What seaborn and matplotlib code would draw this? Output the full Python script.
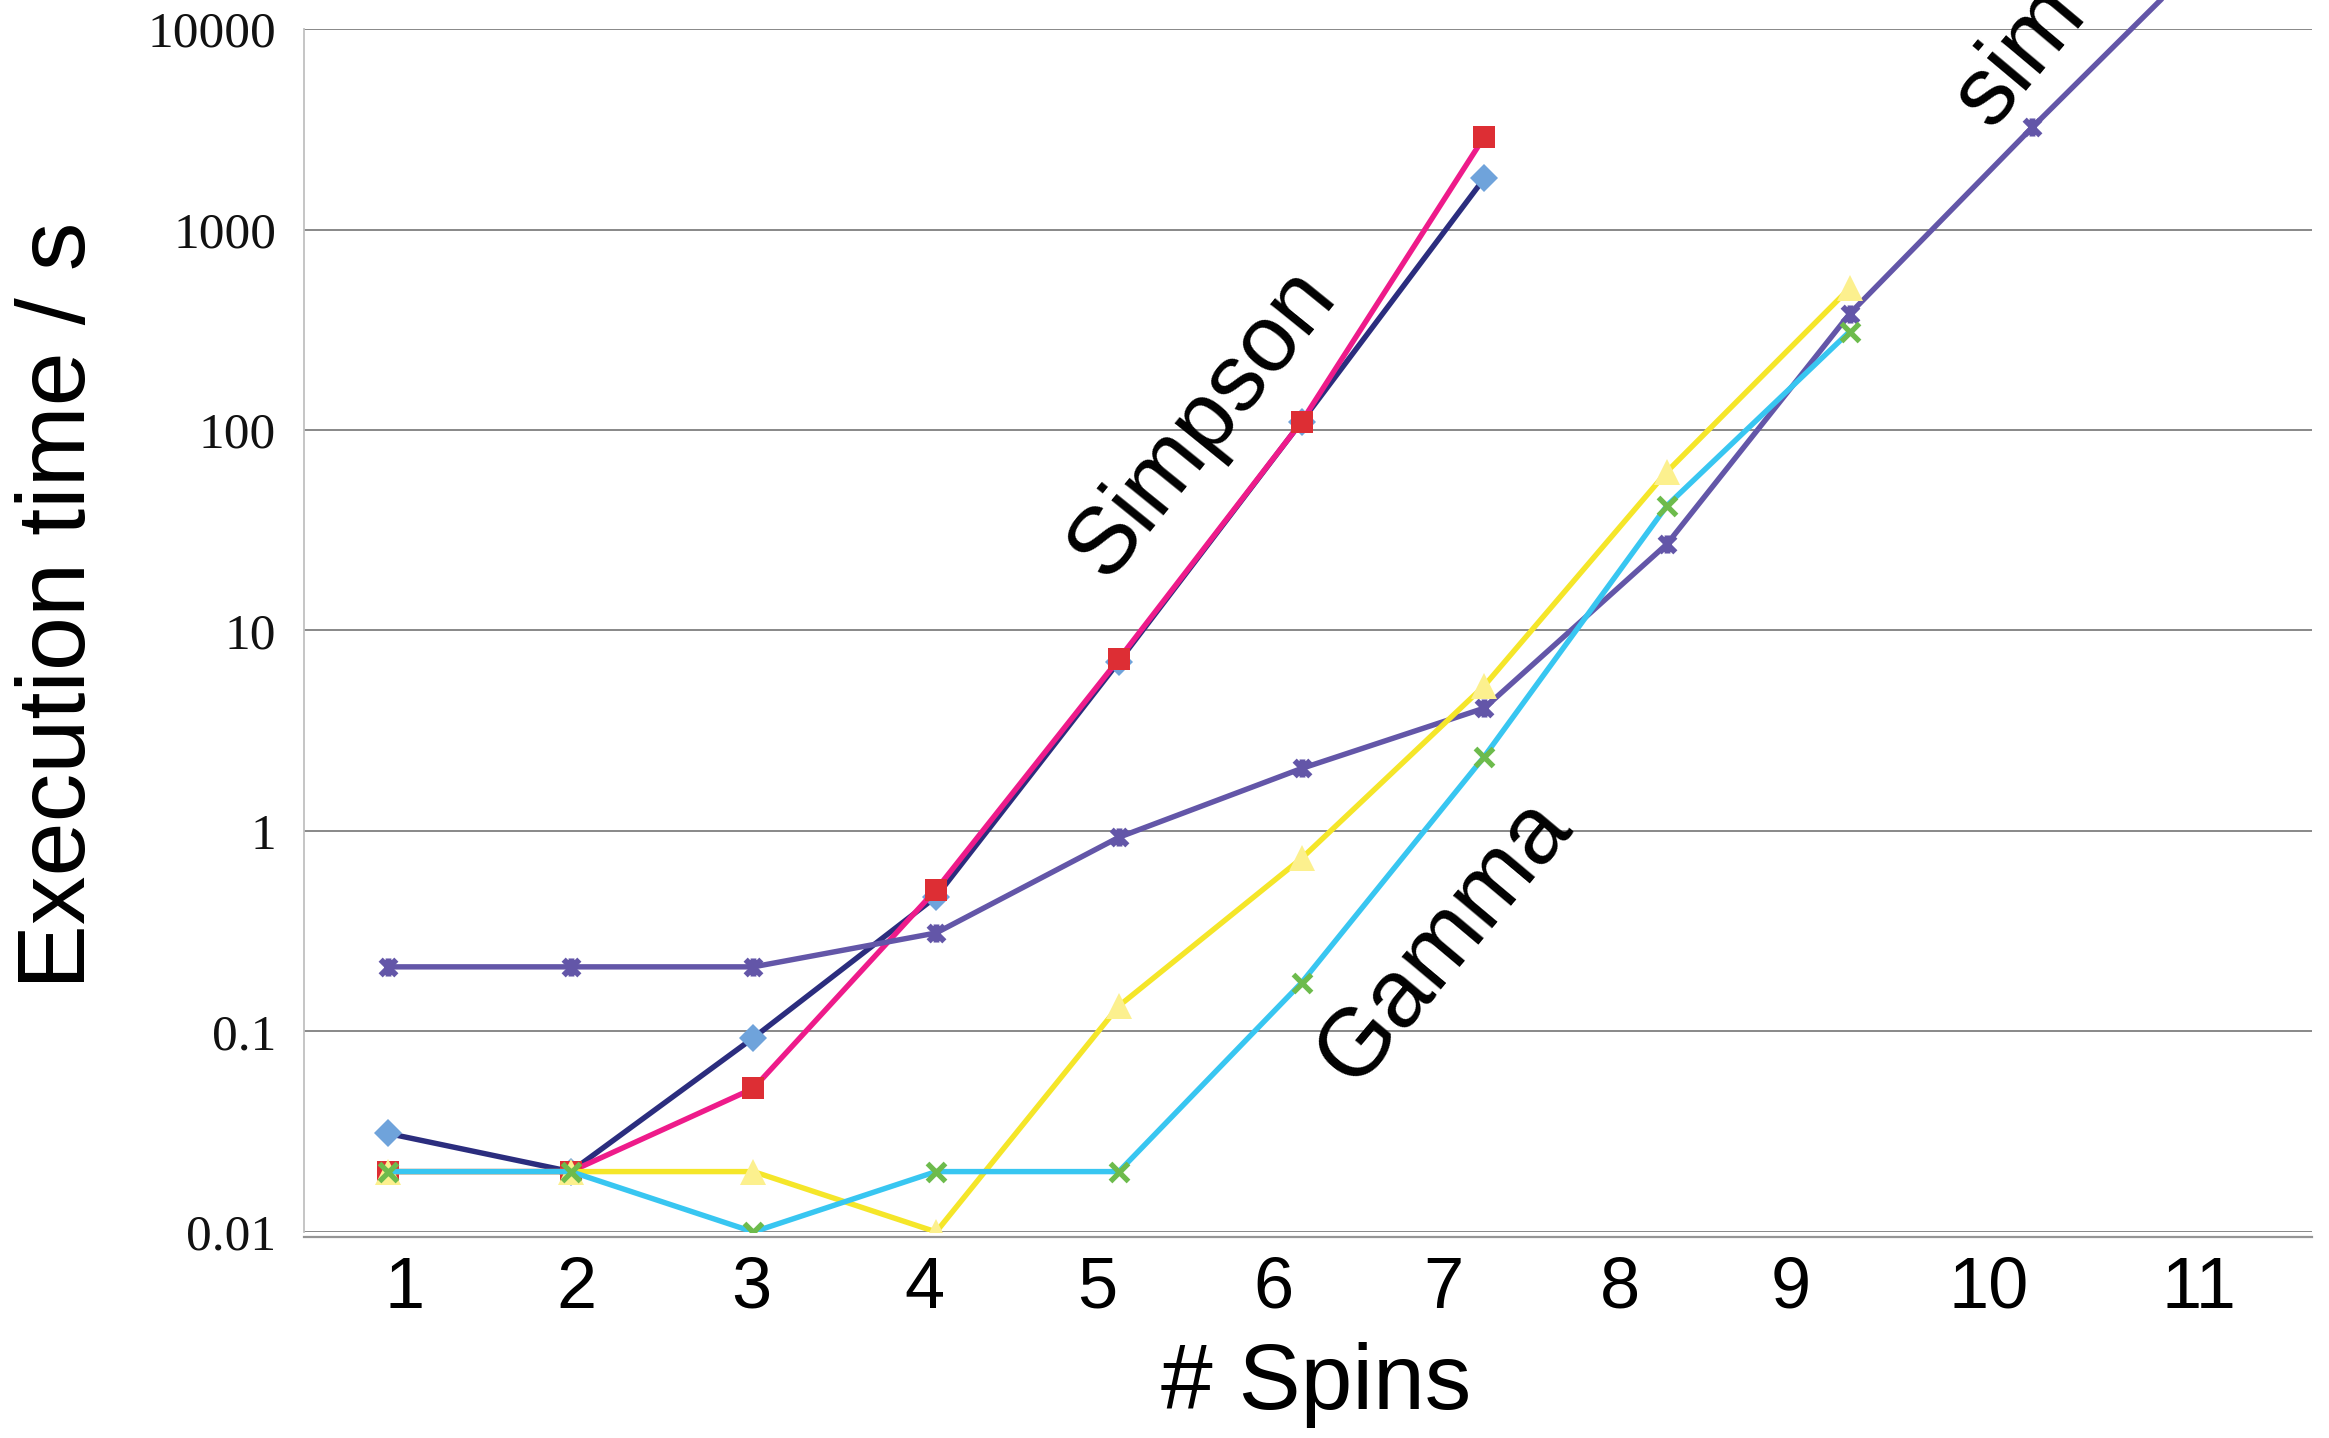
import matplotlib
matplotlib.use("Agg")
import matplotlib.pyplot as plt
from matplotlib.path import Path
from matplotlib.ticker import FixedLocator, FixedFormatter, NullLocator
import seaborn as sns

# Execution time (s) versus number of spins
spins = [1, 2, 3, 4, 5, 6, 7, 8, 9, 10, 11]
simpson_a = [0.031, 0.02, 0.093, 0.47, 7.0, 110, 1800]
simpson_b = [0.02, 0.02, 0.052, 0.51, 7.2, 110, 2900]
sim_times = [0.21, 0.21, 0.21, 0.31, 0.93, 2.05, 4.1, 27, 380, 3240, 26000]
gamma_a = [0.02, 0.02, 0.02, 0.01, 0.134, 0.73, 5.3, 62, 510]
gamma_b = [0.02, 0.02, 0.01, 0.02, 0.02, 0.175, 2.35, 42, 310]

ytick_values = [0.01, 0.1, 1, 10, 100, 1000, 10000]
ytick_labels = ["0.01", "0.1", "1", "10", "100", "1000", "10000"]
xtick_labels = ["1", "2", "3", "4", "5", "6", "7", "8", "9", "10", "11"]
xtick_positions = [1.093, 2.034, 2.99, 3.934, 4.88, 5.844, 6.775, 7.743, 8.679, 9.763, 10.912]

sns.set_style("white")
plt.rcParams["font.family"] = ["Liberation Sans", "DejaVu Sans"]
plt.rcParams["text.color"] = "black"
plt.rcParams["axes.labelcolor"] = "black"

fig = plt.figure(figsize=(23.29, 14.38), dpi=100)
ax = fig.add_axes([0.1305, 0.1433, 0.8622, 0.8365])
ax.set_yscale("log")

# x-with-bar marker
star = Path([(-1, -1), (1, 1), (-1, 1), (1, -1), (0, -1.15), (0, 1.15)],
            [Path.MOVETO, Path.LINETO, Path.MOVETO, Path.LINETO, Path.MOVETO, Path.LINETO])

lw = 3.9
sns.lineplot(x=spins[:len(simpson_a)], y=simpson_a, ax=ax, color="#2B2D7E", lw=lw,
             marker="D", markersize=14, markerfacecolor="#6FA3DB", markeredgecolor="#6FA3DB",
             markeredgewidth=0)
sns.lineplot(x=spins[:len(simpson_b)], y=simpson_b, ax=ax, color="#EE1B8A", lw=lw,
             marker="s", markersize=16, markerfacecolor="#DD2E34", markeredgecolor="#DD2E34",
             markeredgewidth=0)
sns.lineplot(x=spins[:len(sim_times)], y=sim_times, ax=ax, color="#6356A8", lw=lw,
             marker=star, markersize=13, markerfacecolor="#6356A8", markeredgecolor="#6356A8",
             markeredgewidth=4.2)
ax.lines[-1].set_clip_on(False)
sns.lineplot(x=spins[:len(gamma_a)], y=gamma_a, ax=ax, color="#F5E629", lw=lw,
             marker="^", markersize=19, markerfacecolor="#FCF08E", markeredgecolor="#FCF08E",
             markeredgewidth=0)
sns.lineplot(x=spins[:len(gamma_b)], y=gamma_b, ax=ax, color="#38C6F1", lw=lw,
             marker="x", markersize=13, markerfacecolor="#6DBB4C", markeredgecolor="#6DBB4C",
             markeredgewidth=3.8)

ax.set_xlim(0.54, 11.53)
ax.set_ylim(0.01, 10000)

ax.yaxis.set_major_locator(FixedLocator(ytick_values))
ax.yaxis.set_major_formatter(FixedFormatter(ytick_labels))
ax.yaxis.set_minor_locator(NullLocator())
ax.xaxis.set_major_locator(FixedLocator(xtick_positions))
ax.xaxis.set_major_formatter(FixedFormatter(xtick_labels))
ax.xaxis.set_minor_locator(NullLocator())
ax.tick_params(axis="both", length=0)
ax.tick_params(axis="y", pad=20, labelsize=37, labelcolor="#111111")
ax.tick_params(axis="x", pad=13, labelsize=52, labelcolor="black")
for lab in ax.get_yticklabels():
    lab.set_fontfamily("Liberation Serif")

ax.yaxis.grid(True, color="#7f7f7f", lw=1.3)
ax.xaxis.grid(False)
ax.set_axisbelow(True)

for side in ("top", "right"):
    ax.spines[side].set_visible(False)
ax.spines["left"].set_color("#c0c0c0")
ax.spines["left"].set_linewidth(1.3)
ax.spines["bottom"].set_color("#959595")
ax.spines["bottom"].set_linewidth(1.6)
ax.spines["bottom"].set_position(("outward", 4))

ax.set_xlabel("# Spins", fontsize=67, va="center")
ax.xaxis.set_label_coords(0.504, -0.1275)
ax.set_ylabel("Execution time / s", fontsize=70, va="center")
ax.yaxis.set_label_coords(-0.1215, 0.521)

# program names written along the curves
ax.text(5.46, 108, "Simpson", fontsize=68, rotation=51, rotation_mode="anchor",
        ha="center", va="center")
ax.text(6.78, 0.28, "Gamma", fontsize=69, rotation=50, rotation_mode="anchor",
        ha="center", va="center")
ax.text(9.77, 3120, "sim", fontsize=70, rotation=50, rotation_mode="anchor",
        ha="left", va="baseline")

fig.savefig("out.png", dpi=100)
